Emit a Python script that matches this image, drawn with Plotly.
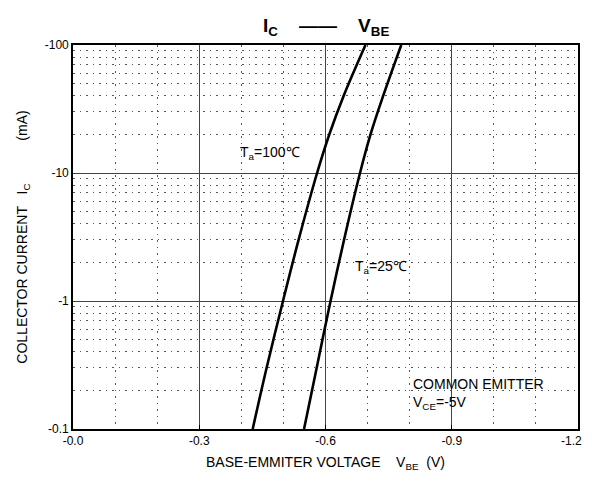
import plotly.graph_objects as go

# Collector current magnitude (mA) and base-emitter voltage (V, negative as in chart)
ic_ma = [0.1, 0.3, 1, 3, 10, 20, 40, 100]
vbe_100 = [-0.427, -0.460, -0.499, -0.536, -0.580, -0.609, -0.643, -0.695]
vbe_25 = [-0.549, -0.579, -0.612, -0.644, -0.682, -0.707, -0.737, -0.780]

x_ticks = [0.0, 0.3, 0.6, 0.9, 1.2]
x_ticktext = ["-0.0", "-0.3", "-0.6", "-0.9", "-1.2"]
y_ticks = [0.1, 1, 10, 100]
y_ticktext = ["-0.1", "-1", "-10", "-100"]

FONT = "Liberation Sans, Arial, sans-serif"
NB = "\u00a0"

fig = go.Figure()
for v in (vbe_100, vbe_25):
    fig.add_trace(go.Scatter(
        x=[-a for a in v], y=ic_ma, mode="lines",
        line=dict(color="black", width=2.6, shape="spline", smoothing=1.0),
        showlegend=False, hoverinfo="skip"))

# last x tick label drawn as an annotation so it is not clipped at the page edge
axis_ticktext = x_ticktext[:-1] + [""]

x_title = "BASE-EMMITER VOLTAGE" + NB * 4 + "V<sub>BE</sub>" + NB * 2 + "(V)" + NB * 8
y_title = "COLLECTOR CURRENT" + NB * 3 + "I<sub>C</sub>" + NB * 11 + "(mA)" + NB * 8

fig.update_xaxes(
    range=[0, 1.2], tickvals=x_ticks, ticktext=axis_ticktext,
    showgrid=True, gridcolor="#444444", gridwidth=1.2,
    minor=dict(dtick=0.1, showgrid=True, gridcolor="#555555", griddash="1.5px,5px", gridwidth=1.4),
    showline=True, linecolor="black", linewidth=1.6, mirror=True,
    ticks="inside", ticklen=4, tickcolor="black", zeroline=False,
    automargin=False,
    tickfont=dict(size=12, color="black", family=FONT),
    title=dict(text=x_title, font=dict(size=14, color="black", family=FONT), standoff=10),
)
fig.update_yaxes(
    type="log", range=[-1, 2], tickvals=y_ticks, ticktext=y_ticktext,
    showgrid=True, gridcolor="#444444", gridwidth=1.2,
    minor=dict(dtick="D1", showgrid=True, gridcolor="#555555", griddash="1.5px,5px", gridwidth=1.4),
    showline=True, linecolor="black", linewidth=1.6, mirror=True,
    ticks="", zeroline=False,
    automargin=False,
    tickfont=dict(size=12, color="black", family=FONT),
    title=dict(text=y_title, font=dict(size=14, color="black", family=FONT), standoff=14),
)

fig.add_annotation(x=x_ticks[-1], y=0, xref="x", yref="paper", xanchor="right", yanchor="top",
                   xshift=6, yshift=-3, text=x_ticktext[-1], showarrow=False,
                   font=dict(size=12, color="black", family=FONT))

fig.add_annotation(x=0.392, y=1.156, xref="x", yref="y", xanchor="left", yanchor="middle",
                   text="T<sub>a</sub>=100℃", showarrow=False,
                   font=dict(size=14, color="black", family=FONT))
fig.add_annotation(x=0.665, y=0.266, xref="x", yref="y", xanchor="left", yanchor="middle",
                   text="T<sub>a</sub>=25℃", showarrow=False,
                   font=dict(size=14, color="black", family=FONT))
fig.add_annotation(x=0.803, y=-0.73, xref="x", yref="y", xanchor="left", yanchor="middle",
                   align="left",
                   text="COMMON EMITTER<br>V<sub>CE</sub>=-5V", showarrow=False,
                   font=dict(size=14, color="black", family=FONT))
fig.add_annotation(x=0.5, y=1.0, xref="paper", yref="paper", xanchor="center", yanchor="bottom",
                   yshift=4,
                   text="<b>I<sub>C</sub>    ——    V<sub>BE</sub></b>", showarrow=False,
                   font=dict(size=19, color="black", family=FONT))

fig.update_layout(
    width=584, height=465,
    margin=dict(l=65, r=14, t=37, b=44),
    paper_bgcolor="white", plot_bgcolor="white",
    font=dict(family=FONT, color="black"),
)

fig.write_html("out.html")
